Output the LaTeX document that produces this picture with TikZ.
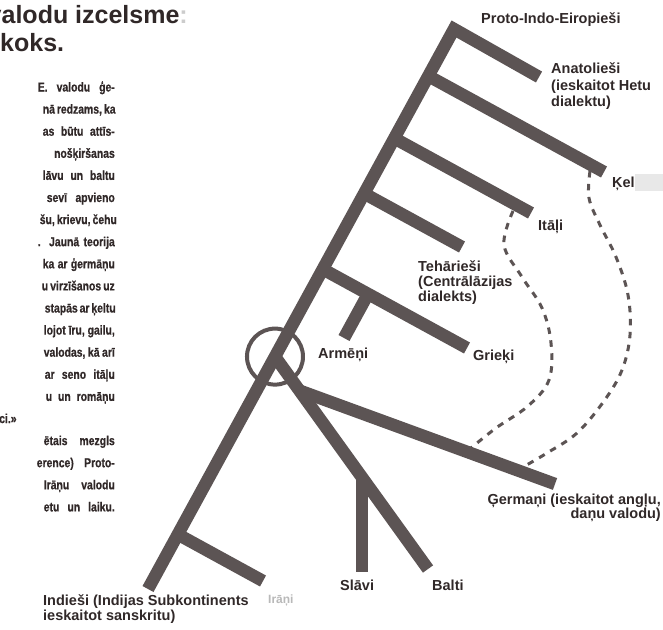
\documentclass[tikz,border=0pt]{standalone}
\usepackage{fontspec}
\setmainfont{Liberation Sans}
\newfontfamily\bodyf[FakeStretch=0.8,FakeBold=0.6]{Liberation Sans}
\usetikzlibrary{calc}
\definecolor{bar}{RGB}{92,84,84}
\definecolor{ink}{RGB}{48,40,40}
\begin{document}
\begin{tikzpicture}[x=1pt,y=-1pt,
  barline/.style={draw=bar,line width=12.5pt},
  ring/.style={draw=bar,line width=4pt},
  dashline/.style={draw=bar,line width=3pt,dash pattern=on 6.5pt off 6.5pt},
  lab/.style={font=\fontsize{14.5}{16}\selectfont\bfseries,text=ink,inner sep=0pt,anchor=base west},
  labr/.style={lab,anchor=base east},
  bodytxt/.style={font=\bodyf\fontsize{13}{15}\selectfont\bfseries,text=ink,inner sep=0pt,anchor=base east},
  ttl/.style={font=\fontsize{25}{28}\selectfont\bfseries,text=ink,inner sep=0pt,anchor=base west}]
\useasboundingbox[fill=white] (0,0) rectangle (663,629);

% title
\node[ttl,anchor=base east] (t1) at (188,23) {valodu izcelsme\textcolor{gray!40}{:}};
\node[ttl] (t2) at (0,51) {koks.};

% body text
\node[bodytxt] (b1) at (115,91.5) {\makebox[77pt][s]{E. valodu ģe-}};
\node[bodytxt] (b2) at (115,113.6) {\makebox[72pt][s]{nā redzams, ka}};
\node[bodytxt] (b3) at (115,135.7) {\makebox[72pt][s]{as būtu attīs-}};
\node[bodytxt] (b4) at (115,157.8) {nošķiršanas};
\node[bodytxt] (b5) at (115,179.9) {\makebox[72pt][s]{lāvu un baltu}};
\node[bodytxt] (b6) at (115,202) {\makebox[68pt][s]{sevī apvieno}};
\node[bodytxt] (b7) at (115,224.1) {\makebox[75pt][s]{šu, krievu, čehu}};
\node[bodytxt] (b8) at (115,246.2) {\makebox[77pt][s]{. Jaunā teorija}};
\node[bodytxt] (b9) at (115,268.3) {\makebox[72pt][s]{ka ar ģermāņu}};
\node[bodytxt] (b10) at (115,290.4) {\makebox[73pt][s]{u virzīšanos uz}};
\node[bodytxt] (b11) at (115,312.5) {\makebox[70pt][s]{stapās ar ķeltu}};
\node[bodytxt] (b12) at (115,334.6) {\makebox[71pt][s]{lojot īru, gailu,}};
\node[bodytxt] (b13) at (115,356.7) {\makebox[71pt][s]{valodas, kā arī}};
\node[bodytxt] (b14) at (115,378.8) {\makebox[70pt][s]{ar seno itāļu}};
\node[bodytxt] (b15) at (115,400.9) {\makebox[69pt][s]{u un romāņu}};
\node[bodytxt,anchor=base west] (b16) at (-1,423) {ci.»};
\node[bodytxt] (b17) at (115,445.1) {\makebox[71pt][s]{ētais mezgls}};
\node[bodytxt] (b18) at (115,467.2) {\makebox[78pt][s]{erence) Proto-}};
\node[bodytxt] (b19) at (115,489.3) {\makebox[71pt][s]{Irāņu valodu}};
\node[bodytxt] (b20) at (115,511.4) {\makebox[71pt][s]{etu un laiku.}};

% tree geometry
\coordinate (T) at (454,29);
\coordinate (B) at (148,589);
\coordinate (e1) at (539,77);
\coordinate (e2) at (604,172);
\coordinate (e3) at (531,213);
\coordinate (e4) at (462,247);
\coordinate (e5) at (467,348);
\coordinate (e6) at (263,581);
\foreach \k in {2,...,6} \coordinate (s\k) at ($(T)!(e\k)!(B)$);
\coordinate (J) at ($(T)!0.585!(B)$);
\coordinate (eb) at (428,569);
\coordinate (g0) at ($(J)!0.16!(eb)$);
\coordinate (eg) at (555,484);
\coordinate (sv0) at ($(J)!0.57!(eb)$);
\coordinate (sv1) at ($(sv0)+(0,94)$);
\coordinate (ea) at (344,338);
\coordinate (a0) at ($(s5)!(ea)!(e5)$);

\draw[barline,line join=miter] (e1) -- (T) -- (B);
\foreach \k in {2,...,6} \draw[barline] (s\k) -- (e\k);
\draw[barline] (a0) -- (ea);
\draw[barline] (J) -- (eb);
\draw[barline] (g0) -- (eg);
\draw[barline] (sv0) -- (sv1);
\draw[ring] (J) circle[radius=28pt];

% dashed contact lines
\coordinate (d1s) at (513,211);
\coordinate (d1e) at (471,448);
\coordinate (d2s) at (590,171);
\coordinate (d2e) at (523,467);
\draw[dashline] plot[smooth,tension=0.6] coordinates {(d1s) (504,245) (522,277) (542,308) (551,343) (549,380) (528,406) (496,428) (d1e)};
\draw[dashline] plot[smooth,tension=0.6] coordinates {(d2s) (589,198) (600,225) (616,257) (628,295) (630,335) (622,370) (604,401) (577,433) (547,453) (d2e)};

% labels
\fill[gray!18] (635,174) rectangle (663,191);
\node[lab] (proto) at (481,23) {Proto-Indo-Eiropieši};
\node[lab] (ana1) at (551,73) {Anatolieši};
\node[lab] (ana2) at (551,90) {(ieskaitot Hetu};
\node[lab] (ana3) at (551,106) {dialektu)};
\node[lab] (kel) at (612,187) {Ķel};
\node[lab] (ita) at (538,230) {Itāļi};
\node[lab] (teh1) at (418,271) {Tehārieši};
\node[lab] (teh2) at (418,286) {(Centrālāzijas};
\node[lab] (teh3) at (418,301) {dialekts)};
\node[lab] (arm) at (318,358) {Armēņi};
\node[lab] (gri) at (473,360) {Grieķi};
\node[labr] (ger1) at (661,504) {Ģermaņi (ieskaitot angļu,};
\node[labr] (ger2) at (661,518) {daņu valodu)};
\node[lab] (sla) at (340,590) {Slāvi};
\node[lab] (bal) at (432,590) {Balti};
\node[lab,text=gray!55,font=\fontsize{12}{14}\selectfont\bfseries] (ira) at (268,603) {Irāņi};
\node[lab] (ind1) at (43,605) {Indieši (Indijas Subkontinents};
\node[lab] (ind2) at (43,620) {ieskaitot sanskritu)};
\end{tikzpicture}
\end{document}
